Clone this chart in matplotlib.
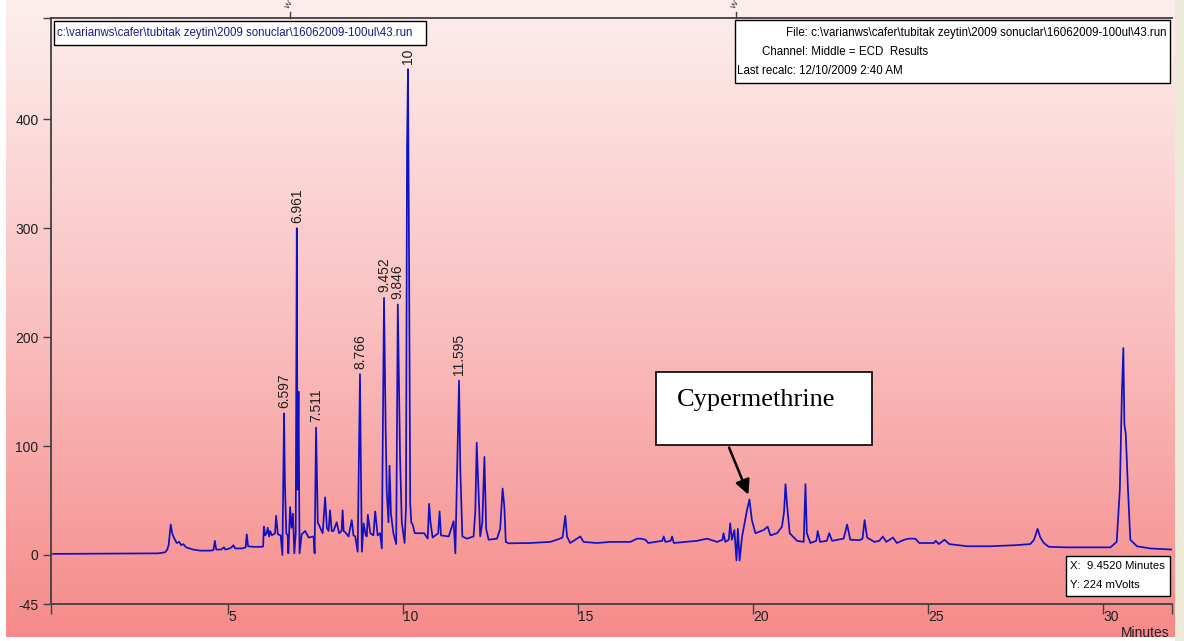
import matplotlib.pyplot as plt
import numpy as np
from matplotlib.patches import Rectangle
from matplotlib import transforms

plt.rcParams['font.family'] = ['Liberation Sans', 'DejaVu Sans']

# chromatogram trace (minutes, mVolts)
time_min = [
    0, 3.0, 3.2, 3.26, 3.3, 3.36, 3.4, 3.45, 3.53, 3.6, 3.66, 3.72, 3.8, 3.9, 4.0, 4.2,
    4.5, 4.58, 4.62, 4.66, 4.8, 4.88, 4.92, 5.0, 5.1, 5.15, 5.2, 5.4, 5.5, 5.53, 5.57,
    5.7, 5.98,
    6.0, 6.02, 6.06, 6.1, 6.13, 6.17, 6.2, 6.25, 6.34, 6.37, 6.42, 6.5, 6.55, 6.597,
    6.62, 6.66, 6.7, 6.72, 6.77, 6.81, 6.85, 6.89, 6.93, 6.961, 6.98, 7.01, 7.04, 7.1,
    7.2, 7.3, 7.44, 7.47, 7.511, 7.54, 7.56, 7.63, 7.7, 7.77, 7.82, 7.87, 7.91, 7.96,
    8.01, 8.1, 8.17, 8.24, 8.27, 8.3, 8.34,
    8.44, 8.53, 8.58, 8.63, 8.7, 8.766, 8.79, 8.82, 8.87, 8.93, 8.96, 8.99, 9.06, 9.15,
    9.2, 9.27, 9.34, 9.39, 9.452, 9.5, 9.53, 9.58, 9.61, 9.65, 9.72, 9.8, 9.846, 9.91,
    9.96, 10.04, 10.08, 10.11, 10.137, 10.17, 10.2, 10.23, 10.27, 10.33, 10.4, 10.6,
    10.7, 10.74, 10.78, 10.84, 11.0, 11.04, 11.08, 11.3, 11.44, 11.49, 11.595, 11.63,
    11.69, 11.82, 12.01, 12.06, 12.1, 12.15, 12.2, 12.26, 12.32, 12.37, 12.44, 12.68,
    12.77, 12.84, 12.89, 12.93, 13.01,
    13.63, 14.2, 14.39, 14.55, 14.58, 14.63, 14.68, 14.77, 15.06, 15.15, 15.53, 15.92,
    16.49, 16.68, 16.8, 16.92, 17.0, 17.4, 17.44, 17.49, 17.64, 17.68, 17.73, 18.39,
    18.68, 18.97, 19.12, 19.15, 19.2, 19.3, 19.34, 19.39, 19.46, 19.52, 19.56, 19.61,
    19.68, 19.82, 19.89, 19.96, 20.06, 20.3, 20.41, 20.49, 20.68, 20.82, 20.88, 20.92,
    20.97, 21.04, 21.25, 21.44, 21.49, 21.53, 21.63, 21.8, 21.84, 21.91, 22.1, 22.17,
    22.25, 22.58, 22.68, 22.77,
    23.04, 23.12, 23.18, 23.25, 23.46, 23.6, 23.7, 23.8, 23.99, 24.1, 24.31, 24.45,
    24.63, 24.74, 25.16, 25.21, 25.3, 25.46, 25.6, 26.11, 26.75, 27.49, 27.91, 28.02,
    28.12, 28.2, 28.3, 28.44, 28.97, 29.4, 30.2, 30.38, 30.47, 30.53, 30.57, 30.6,
    30.64, 30.7, 30.77, 30.96, 31.34, 31.96,
]
signal_mv = [
    1, 1.5, 2.5, 5, 9, 28, 20, 16, 11, 12, 9, 10, 7, 6, 5, 4,
    4, 4.5, 13, 5, 5, 7, 5, 5.5, 7, 9, 6, 6, 7, 19, 8,
    7.5, 7.5,
    8, 26, 18, 20, 25, 17, 22, 18, 20, 36, 19, 18, 0, 130,
    68, 20, 18, 1.5, 44, 25, 38, 1.5, 20, 300, 60, 150, 1.5, 19,
    22, 16, 17, 1.5, 117, 62, 30, 25, 20, 53, 25, 22, 41, 22,
    22, 30, 20, 22, 41, 22, 21,
    17, 32, 18, 17, 3, 166, 84, 3, 29, 18, 17, 37, 20, 18,
    40, 18, 20, 6, 236, 114, 59, 30, 82, 38, 20, 10, 230, 90,
    30, 11, 44, 375, 446, 255, 48, 30, 28, 20, 20, 20,
    15, 47, 30, 16, 20, 40, 18, 17, 31, 1.5, 160, 80,
    17, 15, 17, 40, 103, 59, 17, 30, 90, 24, 14, 15,
    24, 61, 44, 12, 10.7,
    11, 12, 14, 16, 23, 36, 17, 11, 17, 12, 11, 12,
    12, 15, 15, 14, 11, 13, 17, 12, 13, 17, 11, 13,
    15, 12, 14, 20, 12, 14, 29, 14, 23, -5, 24, -5,
    17, 41, 51, 32, 20, 23, 26, 18, 20, 26, 40, 65,
    44, 20, 13, 12, 65, 20, 11, 13, 22, 12, 13, 20,
    13, 15, 28, 14,
    13.6, 15, 32, 16, 12, 13, 17, 12, 16, 11, 14, 15,
    15, 11, 11, 13, 10, 14, 10, 8, 8, 9, 10, 14,
    24, 16, 11, 7.5, 7, 7, 7, 12, 60, 150, 190, 120,
    111, 62, 14, 8, 6, 5,
]

# the label of the tallest peak is mostly hidden by the header box; only "10" shows
peak_names = ['6.597', '6.961', '7.511', '8.766', '9.452', '9.846', '10', '11.595']
peak_times = [6.597, 6.961, 7.511, 8.766, 9.452, 9.846, 10.137, 11.595]

y_ticks = [-45, 0, 100, 200, 300, 400]
x_ticks = [5, 10, 15, 20, 25, 30]
x_range = (-0.06, 31.96)
y_range = (-45, 493)

cyper_time = 19.89
event_times = [6.77, 19.51]

run_file = 'c:\\varianws\\cafer\\tubitak zeytin\\2009 sonuclar\\16062009-100ul\\43.run'

W, H = 1184, 641
fig = plt.figure(figsize=(W / 100, H / 100), dpi=100)


def fx(px):
    return px / W


def fy(py):
    return 1 - py / H


# pink gradient background like the Varian window
bg = fig.add_axes([0, 0, 1, 1], zorder=-10)
img = np.ones((H, W, 3))
rows = np.arange(637)
stops = [0, 320, 637]
for c, vals in enumerate([(253, 250, 246), (238, 192, 138), (238, 192, 138)]):
    img[:637, 6:1175, c] = np.interp(rows, stops, vals)[:, None] / 255
img[:, 1175:, :] = np.array([236, 233, 216]) / 255
bg.imshow(img, aspect='auto', extent=(0, W, H, 0))
bg.set_axis_off()

ax = fig.add_axes([fx(51), fy(604), fx(1172) - fx(51), fy(18) - fy(604)])
ax.set_facecolor('none')
ax.plot(time_min, signal_mv, color='#1010c4', lw=1.25)
ax.set_xlim(*x_range)
ax.set_ylim(*y_range)

for s in ['left', 'bottom', 'top']:
    ax.spines[s].set_color('#404040')
    ax.spines[s].set_linewidth(1.3)
ax.spines['right'].set_visible(False)

ax.set_yticks(y_ticks + [y_range[1]])
ax.set_yticklabels([str(v) for v in y_ticks] + [''])
ax.set_xticks([x_range[0]] + x_ticks + [x_range[1]])
ax.set_xticklabels([''] + [str(v) for v in x_ticks] + [''])
ax.tick_params(axis='both', direction='out', color='#404040', width=1, labelsize=10,
               labelcolor='#202020')
ax.tick_params(axis='y', length=6, pad=3)
ax.tick_params(axis='x', length=7, pad=-3)
for lbl in ax.get_xticklabels():
    lbl.set_horizontalalignment('left')

t_arr = np.array(time_min)
s_arr = np.array(signal_mv)

# peak labels above the apex
for name, t in zip(peak_names, peak_times):
    near = np.abs(t_arr - t) < 0.03
    h = s_arr[near].max()
    ax.annotate(name, xy=(t, h), xytext=(0, 4), textcoords='offset points',
                rotation=90, ha='center', va='bottom', fontsize=10, color='#202020')

# event markers poking above the frame
trans = transforms.blended_transform_factory(ax.transData, ax.transAxes)
for t in event_times:
    ax.plot([t, t], [1.0, 1.01], color='#404040', lw=1, transform=trans, clip_on=False)
    ax.text(t, 1.013, 'W', transform=trans, rotation=60, fontsize=6,
            ha='center', va='bottom', clip_on=False, color='#303030')

# Cypermethrine callout
cyper_h = s_arr[np.abs(t_arr - cyper_time) < 0.03].max()
ax.annotate('', xy=(cyper_time, cyper_h + 2), xycoords='data',
            xytext=(fx(728), fy(445)), textcoords='figure fraction',
            arrowprops=dict(arrowstyle='-|>', color='black', lw=1.8, mutation_scale=22))


def box(x0, y0, x1, y1, lw=1.0):
    fig.add_artist(Rectangle((fx(x0), fy(y1)), fx(x1) - fx(x0), fy(y0) - fy(y1),
                             transform=fig.transFigure, facecolor='white',
                             edgecolor='black', lw=lw, zorder=5))


box(54, 21, 426, 45)
fig.text(fx(57), fy(33), run_file, color='#1a1a8c', fontsize=8.3, va='center', zorder=6)

box(735, 20, 1170, 83)
fig.text(fx(1166), fy(33), 'File: ' + run_file, fontsize=8.3, va='center', ha='right', zorder=6)
fig.text(fx(762), fy(52), 'Channel: Middle = ECD  Results', fontsize=8.3, va='center', zorder=6)
fig.text(fx(737), fy(71), 'Last recalc: 12/10/2009 2:40 AM', fontsize=8.3, va='center', zorder=6)

box(1066, 556, 1170, 596)
fig.text(fx(1070), fy(566), 'X:  9.4520 Minutes', fontsize=8.2, va='center', zorder=6)
fig.text(fx(1070), fy(585), 'Y: 224 mVolts', fontsize=8.2, va='center', zorder=6)

box(656, 372, 872, 445, lw=1.2)
fig.text(fx(677), fy(400), 'Cypermethrine', fontsize=19, va='center', zorder=6,
         family=['Liberation Serif', 'DejaVu Serif'])

fig.text(fx(1170), fy(626), 'Minutes', fontsize=10, ha='right', va='top', color='#202020')

plt.savefig('out.png', dpi=100)
